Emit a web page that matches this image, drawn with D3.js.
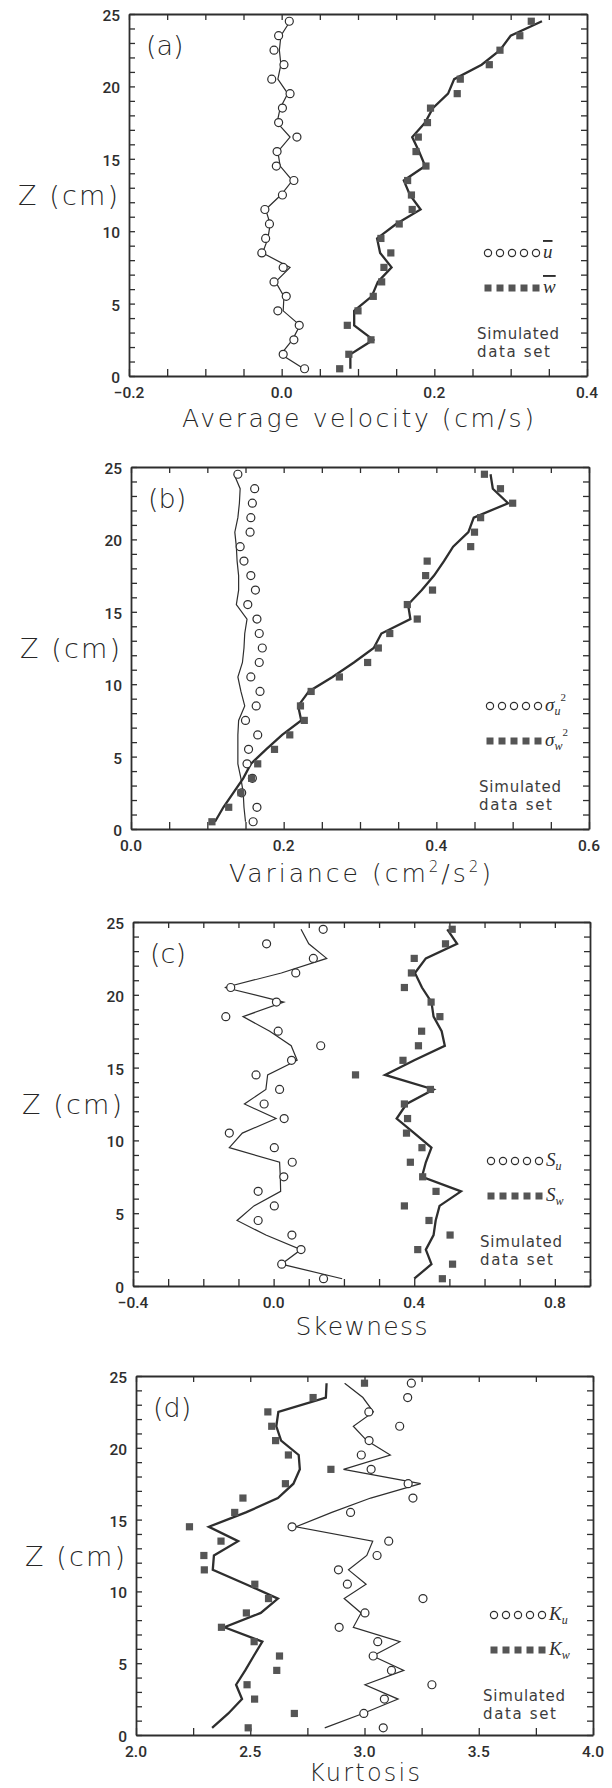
<!DOCTYPE html>
<html><head><meta charset="utf-8">
<script src="https://cdn.jsdelivr.net/npm/d3@7"></script>
<style>body{margin:0;background:#fff}svg{display:block}</style>
</head><body><svg id="chart" width="612" height="1788"></svg>
<script>
// ---- data (z from 0.5 to 24.5 cm) ----
const zLevels = [0.5,1.5,2.5,3.5,4.5,5.5,6.5,7.5,8.5,9.5,10.5,11.5,12.5,13.5,14.5,15.5,16.5,17.5,18.5,19.5,20.5,21.5,22.5,23.5,24.5];
const zTicks = [0,5,10,15,20,25];

// (a) average velocity
const velTicks = [-0.2, 0.0, 0.2, 0.4];
const velU = [0.030,0.002,0.016,0.023,-0.005,0.006,-0.010,0.002,-0.026,-0.021,-0.016,-0.022,0.001,0.016,-0.007,-0.006,0.020,-0.004,0.001,0.011,-0.013,0.003,-0.010,-0.004,0.010];
const velULine = [0.029,-0.001,0.014,0.024,0.002,0.003,-0.008,0.011,-0.025,-0.018,-0.015,-0.021,-0.001,0.014,-0.002,-0.005,0.011,-0.006,-0.002,0.008,-0.005,-0.001,-0.003,-0.001,0.011];
const velW = [0.076,0.088,0.117,0.086,0.100,0.120,0.131,0.134,0.143,0.130,0.154,0.171,0.170,0.165,0.189,0.176,0.179,0.191,0.195,0.230,0.234,0.272,0.286,0.312,0.327];
const velWLine = [0.090,0.090,0.120,0.095,0.095,0.118,0.126,0.144,0.129,0.125,0.150,0.182,0.168,0.160,0.188,0.180,0.171,0.188,0.198,0.218,0.226,0.262,0.286,0.300,0.341];

// (b) variance
const varTicks = [0.0, 0.2, 0.4, 0.6];
const varU = [0.160,0.165,0.145,0.159,0.152,0.154,0.166,0.150,0.164,0.169,0.157,0.168,0.172,0.168,0.165,0.153,0.163,0.157,0.148,0.143,0.156,0.157,0.159,0.162,0.140];
const varULine = [0.150,0.148,0.147,0.144,0.140,0.140,0.140,0.141,0.149,0.144,0.140,0.146,0.148,0.149,0.152,0.138,0.141,0.141,0.139,0.138,0.136,0.140,0.142,0.143,0.135];
const varW = [0.106,0.128,0.144,0.158,0.166,0.188,0.208,0.227,0.222,0.236,0.273,0.310,0.324,0.339,0.375,0.362,0.395,0.386,0.388,0.445,0.450,0.458,0.500,0.484,0.463];
const varWLine = [0.110,0.121,0.134,0.147,0.157,0.177,0.198,0.223,0.219,0.233,0.264,0.292,0.318,0.328,0.366,0.363,0.381,0.397,0.410,0.422,0.442,0.449,0.494,0.474,0.471];

// (c) skewness
const skewTicks = [-0.4, 0.0, 0.4, 0.8];
const skewU = [0.142,0.023,0.078,0.052,-0.044,0.002,-0.044,0.029,0.053,0.002,-0.126,0.030,-0.027,0.017,-0.050,0.051,0.134,0.013,-0.136,0.008,-0.122,0.063,0.113,-0.020,0.141];
const skewULine = [0.195,0.022,0.078,-0.022,-0.104,-0.056,0.020,0.019,0.017,-0.126,-0.089,0.007,-0.083,-0.022,-0.017,0.067,0.050,-0.011,-0.087,0.029,-0.139,0.022,0.151,0.100,0.078];
const skewW = [0.480,0.509,0.410,0.502,0.442,0.372,0.462,0.424,0.389,0.422,0.378,0.381,0.372,0.446,0.233,0.368,0.412,0.421,0.473,0.448,0.372,0.392,0.400,0.489,0.508];
const skewWLine = [0.400,0.449,0.433,0.455,0.461,0.472,0.533,0.422,0.433,0.449,0.400,0.350,0.378,0.455,0.317,0.400,0.487,0.478,0.455,0.449,0.422,0.402,0.433,0.522,0.494];

// (d) kurtosis
const kurtTicks = [2.0, 2.5, 3.0, 3.5, 4.0];
const kurtU = [3.082,2.997,3.087,3.295,3.118,3.038,3.058,2.889,3.002,3.256,2.925,2.886,3.055,3.106,2.683,2.939,3.212,3.191,3.029,2.986,3.020,3.154,3.019,3.189,3.205];
const kurtULine = [2.826,2.993,3.147,3.002,3.172,3.036,3.155,2.951,2.985,2.911,3.007,2.930,3.010,3.036,2.700,2.857,3.027,3.246,2.908,3.113,3.010,2.951,3.039,2.993,2.913];
const kurtW = [2.491,2.693,2.519,2.486,2.616,2.628,2.517,2.374,2.483,2.580,2.520,2.299,2.297,2.372,2.234,2.432,2.468,2.654,2.853,2.667,2.611,2.594,2.577,2.775,3.000];
const kurtWLine = [2.333,2.404,2.464,2.438,2.478,2.515,2.553,2.387,2.546,2.621,2.481,2.336,2.341,2.447,2.319,2.481,2.621,2.689,2.717,2.712,2.635,2.614,2.623,2.831,2.834];

// ---- layout ----
const INK = "#2e2e2e";
const TXT = "#262626";
const TITLE_FONT = "'DejaVu Sans', sans-serif";
const TITLE_WEIGHT = 200;
const TICK_FONT = "Roboto, 'Liberation Sans', Arial, sans-serif";
const SYM_FONT = "'Liberation Serif', 'DejaVu Serif', serif";

const panels = [
  {tag:"(a)", box:[129,587,14,376], domain:[-0.2,0.4], minor:0.05, ticks:velTicks,
   u:velU, uLine:velULine, w:velW, wLine:velWLine, title:"velocity", titleW:352, titleDy:51, sym:"bar"},
  {tag:"(b)", box:[131,589,467,829], domain:[0,0.6], minor:0.05, ticks:varTicks,
   u:varU, uLine:varULine, w:varW, wLine:varWLine, title:"variance", titleW:262, titleDy:53, sym:"sigma"},
  {tag:"(c)", box:[133,590,922,1286], domain:[-0.4,0.9], minor:0.1, ticks:skewTicks,
   u:skewU, uLine:skewULine, w:skewW, wLine:skewWLine, title:"Skewness", titleW:132, titleDy:49, sym:"sub", letter:"S"},
  {tag:"(d)", box:[136,593,1376,1735], domain:[2.0,4.0], minor:0.25, ticks:kurtTicks,
   u:kurtU, uLine:kurtULine, w:kurtW, wLine:kurtWLine, title:"Kurtosis", titleW:111, titleDy:46, sym:"sub", letter:"K"}
];

const svg = d3.select("#chart");
svg.append("rect").attr("width",612).attr("height",1788).attr("fill","#fff");

function drawPanel(p){
  const [L,R,T,B] = p.box;
  const g = svg.append("g");
  const x = d3.scaleLinear().domain(p.domain).range([L,R]);
  const y = d3.scaleLinear().domain([0,25]).range([B,T]);
  const nMinor = Math.round((p.domain[1]-p.domain[0])/p.minor);
  const xMinor = d3.range(nMinor+1).map(i => p.domain[0] + i*p.minor);
  const zMinor = d3.range(26);

  const axStyle = sel => {
    sel.select(".domain").attr("stroke",INK).attr("stroke-width",1.8);
    sel.selectAll(".tick line").attr("stroke",INK).attr("stroke-width",1.3);
  };
  g.append("g").attr("transform",`translate(0,${B})`)
    .call(d3.axisBottom(x).tickValues(xMinor).tickSize(-7).tickSizeOuter(0).tickFormat("")).call(axStyle);
  g.append("g").attr("transform",`translate(0,${T})`)
    .call(d3.axisTop(x).tickValues(xMinor).tickSize(-6).tickSizeOuter(0).tickFormat("")).call(axStyle);
  g.append("g").attr("transform",`translate(${L},0)`)
    .call(d3.axisLeft(y).tickValues(zMinor).tickSize(-6).tickSizeOuter(0).tickFormat("")).call(axStyle);
  g.append("g").attr("transform",`translate(${R},0)`)
    .call(d3.axisRight(y).tickValues(zMinor).tickSize(-6).tickSizeOuter(0).tickFormat("")).call(axStyle);

  // tick labels
  const fmt = d3.format(".1f");
  g.selectAll(".xl").data(p.ticks).join("text")
    .attr("x", d => x(d)).attr("y", B+22).attr("text-anchor","middle")
    .attr("font-family",TICK_FONT).attr("font-weight",500).attr("font-size",15.5).attr("fill",INK)
    .text(d => fmt(d));
  g.selectAll(".yl").data(zTicks).join("text")
    .attr("x", L-9).attr("y", d => y(d)+7).attr("text-anchor","end")
    .attr("font-family",TICK_FONT).attr("font-weight",500).attr("font-size",15.5).attr("fill",INK)
    .text(d => d);

  // lines
  const pts = arr => arr.map((v,i) => ({v, z:zLevels[i]}));
  const line = d3.line().x(d => x(d.v)).y(d => y(d.z));
  g.append("path").datum(pts(p.uLine)).attr("d",line)
    .attr("fill","none").attr("stroke",INK).attr("stroke-width",1.2).attr("stroke-linejoin","miter");
  g.append("path").datum(pts(p.wLine)).attr("d",line)
    .attr("fill","none").attr("stroke",INK).attr("stroke-width",2.3).attr("stroke-linejoin","miter");

  // markers
  g.selectAll(".cu").data(pts(p.u)).join("circle")
    .attr("cx", d => x(d.v)).attr("cy", d => y(d.z)).attr("r",4)
    .attr("fill","#fff").attr("stroke",INK).attr("stroke-width",1.2);
  g.selectAll(".sw").data(pts(p.w)).join("rect")
    .attr("x", d => x(d.v)-3.6).attr("y", d => y(d.z)-3.6).attr("width",7.2).attr("height",7.2)
    .attr("fill","#555");

  // panel tag
  g.append("text").attr("x",L+17).attr("y",T+41)
    .attr("font-family",TITLE_FONT).attr("font-weight",TITLE_WEIGHT).attr("font-size",27).attr("fill",TXT).text(p.tag);

  // axis titles
  g.append("text").attr("x",L-11).attr("y",(T+B)/2+10).attr("text-anchor","end")
    .attr("font-family",TITLE_FONT).attr("font-weight",TITLE_WEIGHT).attr("font-size",27).attr("fill",TXT)
    .attr("xml:space","preserve").attr("textLength",100).attr("lengthAdjust","spacing")
    .text("Z (cm)");

  const xt = g.append("text").attr("x",(L+R)/2).attr("y",B+p.titleDy).attr("text-anchor","middle")
    .attr("font-family",TITLE_FONT).attr("font-weight",TITLE_WEIGHT).attr("font-size",p.title==="Kurtosis"?24:25).attr("fill",TXT)
    .attr("textLength",p.titleW).attr("lengthAdjust","spacing");
  if (p.title === "velocity") xt.text("Average velocity (cm/s)");
  else if (p.title === "variance") {
    xt.append("tspan").text("Variance (cm");
    xt.append("tspan").attr("dy",-10).attr("font-size",15).text("2");
    xt.append("tspan").attr("dy",10).text("/s");
    xt.append("tspan").attr("dy",-10).attr("font-size",15).text("2");
    xt.append("tspan").attr("dy",10).text(")");
  } else xt.text(p.title);

  // legend
  const cx0 = R-99, step = 12;
  const legRows = [{kind:"u", dy:239}, {kind:"w", dy:274}];
  legRows.forEach(row => {
    const yy = T+row.dy;
    const dots = g.selectAll(null).data(d3.range(5)).join(row.kind==="u"?"circle":"rect");
    if (row.kind==="u") dots.attr("cx",i=>cx0+i*step).attr("cy",yy).attr("r",3.6)
        .attr("fill","#fff").attr("stroke",INK).attr("stroke-width",1.2);
    else dots.attr("x",i=>cx0+i*step-3.5).attr("y",yy-3.5).attr("width",7).attr("height",7).attr("fill","#555");
    const t = g.append("text").attr("x",R-44).attr("y",yy+5)
      .attr("font-family",SYM_FONT).attr("font-style","italic").attr("font-size",19).attr("fill",INK);
    if (p.sym==="bar") {
      t.append("tspan").style("text-decoration","overline").text(row.kind);
    } else if (p.sym==="sigma") {
      t.append("tspan").text("σ");
      t.append("tspan").attr("dy",4).attr("font-size",12).text(row.kind);
      t.append("tspan").attr("dy",-14).attr("font-size",11).attr("font-style","normal").text("2");
    } else {
      t.append("tspan").text(p.letter);
      t.append("tspan").attr("dy",4).attr("font-size",12).text(row.kind);
    }
  });
  g.append("text").attr("x",R-110).attr("y",T+325)
    .attr("font-family",TITLE_FONT).attr("font-size",15).attr("fill","#3c3c3c")
    .attr("textLength",82).attr("lengthAdjust","spacing").text("Simulated");
  g.append("text").attr("x",R-110).attr("y",T+343)
    .attr("font-family",TITLE_FONT).attr("font-size",15).attr("fill","#3c3c3c")
    .attr("textLength",73).attr("lengthAdjust","spacing").text("data set");
}

panels.forEach(drawPanel);
</script>
</body></html>
